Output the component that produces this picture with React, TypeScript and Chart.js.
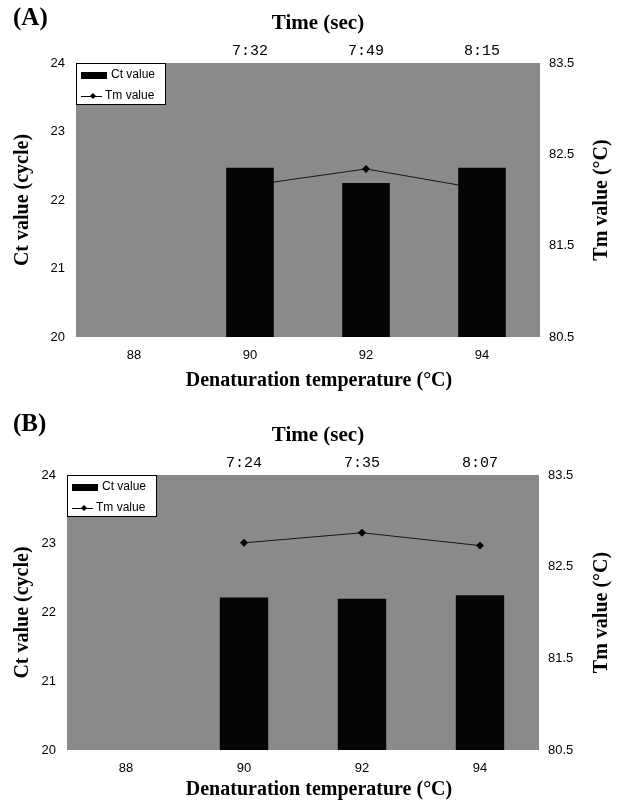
import React, { useEffect, useRef } from 'react';
import { Chart, registerables } from 'chart.js';

Chart.register(...registerables);

// ---------- data ----------
const temperatureLabels = ['88', '90', '92', '94'];

const timeLabelsA = ['', '7:32', '7:49', '8:15'];
const ctValuesA: (number | null)[] = [null, 22.47, 22.25, 22.47];
const tmValuesA: (number | null)[] = [null, 82.16, 82.34, 82.12];

const timeLabelsB = ['', '7:24', '7:35', '8:07'];
const ctValuesB: (number | null)[] = [null, 22.22, 22.2, 22.25];
const tmValuesB: (number | null)[] = [null, 82.76, 82.87, 82.73];

const ctAxisRange = [20, 24];
const tmAxisRange = [80.5, 83.5];
const axisStep = 1;

const seriesNames = ['Ct value', 'Tm value'];
const titleTop = 'Time (sec)';
const titleBottom = 'Denaturation temperature (°C)';
const titleLeft = 'Ct value (cycle)';
const titleRight = 'Tm value (°C)';

// ---------- styles ----------
const W = 622;
const SERIF = '"Liberation Serif", "Times New Roman", serif';
const SANS = '"Liberation Sans", Arial, sans-serif';
const MONO = '"Liberation Mono", "Courier New", monospace';
const PLOT_BG = '#8a8a8a';

type PanelProps = {
  tag: string;
  times: string[];
  ct: (number | null)[];
  tm: (number | null)[];
  height: number;
  plotTop: number;
  plotBottom: number;
  plotLeft: number;
  plotRight: number;
  tagY: number;
  bottomTitleGap: number;
  offsetTop: number;
};

function Panel(p: PanelProps) {
  const ref = useRef<HTMLCanvasElement>(null);

  useEffect(() => {
    if (!ref.current) return;

    const bgPlugin = {
      id: 'plotBg',
      beforeDatasetsDraw(chart: any) {
        const { ctx, chartArea: a } = chart;
        ctx.save();
        ctx.fillStyle = PLOT_BG;
        ctx.fillRect(a.left, a.top, a.right - a.left, a.bottom - a.top);
        ctx.restore();
      },
    };

    const legendPlugin = {
      id: 'insideLegend',
      afterDatasetsDraw(chart: any) {
        const { ctx, chartArea: a } = chart;
        const ds = chart.data.datasets;
        const x = a.left;
        const y = a.top;
        const w = 90;
        const h = 42;
        ctx.save();
        ctx.fillStyle = '#ffffff';
        ctx.fillRect(x, y, w, h);
        ctx.strokeStyle = '#000';
        ctx.lineWidth = 1;
        ctx.strokeRect(x + 0.5, y + 0.5, w - 1, h - 1);
        // Ct swatch
        ctx.fillStyle = '#000';
        ctx.fillRect(x + 5, y + 9, 26, 7);
        ctx.font = `12px ${SANS}`;
        ctx.textBaseline = 'middle';
        ctx.textAlign = 'left';
        ctx.fillText(ds[0].label, x + 35, y + 12);
        // Tm swatch
        const ly = y + 33;
        ctx.strokeStyle = '#000';
        ctx.beginPath();
        ctx.moveTo(x + 5, ly + 0.5);
        ctx.lineTo(x + 26, ly + 0.5);
        ctx.stroke();
        ctx.beginPath();
        const cx = x + 17;
        ctx.moveTo(cx, ly - 3);
        ctx.lineTo(cx + 3, ly);
        ctx.lineTo(cx, ly + 3);
        ctx.lineTo(cx - 3, ly);
        ctx.closePath();
        ctx.fill();
        ctx.fillText(ds[1].label, x + 29, ly);
        ctx.restore();
      },
    };

    const textPlugin = {
      id: 'panelTexts',
      afterDraw(chart: any) {
        const { ctx, chartArea: a } = chart;
        const midY = (a.top + a.bottom) / 2;
        ctx.save();
        ctx.fillStyle = '#000';
        ctx.textBaseline = 'middle';
        // tag
        ctx.textAlign = 'left';
        ctx.font = `bold 25px ${SERIF}`;
        ctx.fillText(p.tag, 13, p.tagY);
        // top & bottom titles
        ctx.textAlign = 'center';
        ctx.font = `bold 21px ${SERIF}`;
        ctx.fillText(titleTop, 318, a.top - 39);
        ctx.font = `bold 20px ${SERIF}`;
        ctx.fillText(titleBottom, 319, a.bottom + p.bottomTitleGap);
        // left title
        ctx.save();
        ctx.translate(23, midY);
        ctx.rotate(-Math.PI / 2);
        ctx.fillText(titleLeft, 0, 0);
        ctx.restore();
        // right title
        ctx.save();
        ctx.translate(602, midY);
        ctx.rotate(-Math.PI / 2);
        ctx.fillText(titleRight, 0, 0);
        ctx.restore();
        ctx.restore();
      },
    };

    const chart = new Chart(ref.current, {
      type: 'bar',
      data: {
        labels: temperatureLabels,
        datasets: [
          {
            type: 'bar',
            label: seriesNames[0],
            data: p.ct,
            xAxisID: 'x',
            yAxisID: 'y',
            backgroundColor: '#050505',
            barPercentage: 0.41,
            categoryPercentage: 1,
          } as any,
          {
            type: 'line',
            label: seriesNames[1],
            data: p.tm,
            xAxisID: 'x',
            yAxisID: 'y2',
            borderColor: '#151515',
            borderWidth: 1,
            pointStyle: 'rectRot',
            pointRadius: 3.5,
            pointBackgroundColor: '#000',
            pointBorderColor: '#000',
            tension: 0,
            fill: false,
          } as any,
        ],
      },
      options: {
        responsive: false,
        animation: false,
        devicePixelRatio: 1,
        layout: { padding: 0 },
        plugins: { legend: { display: false }, tooltip: { enabled: false } },
        scales: {
          x: {
            type: 'category',
            position: 'bottom',
            offset: true,
            grid: { display: false, drawTicks: false },
            border: { display: false },
            ticks: { color: '#000', font: { family: SANS, size: 13 }, padding: 11 },
            afterFit: (s: any) => {
              s.height = p.height - p.plotBottom;
            },
          },
          xTop: {
            type: 'category',
            position: 'top',
            labels: p.times,
            offset: true,
            grid: { display: false, drawTicks: false },
            border: { display: false },
            ticks: { color: '#000', font: { family: MONO, size: 15 }, padding: 3 },
            afterFit: (s: any) => {
              s.height = p.plotTop;
            },
          },
          y: {
            position: 'left',
            min: ctAxisRange[0],
            max: ctAxisRange[1],
            grid: { display: false, drawTicks: false },
            border: { display: false },
            ticks: { stepSize: axisStep, color: '#000', font: { family: SANS, size: 13 }, padding: 11 },
            afterFit: (s: any) => {
              s.width = p.plotLeft;
            },
          },
          y2: {
            position: 'right',
            min: tmAxisRange[0],
            max: tmAxisRange[1],
            grid: { display: false, drawTicks: false },
            border: { display: false },
            ticks: {
              stepSize: axisStep,
              color: '#000',
              font: { family: SANS, size: 13 },
              padding: 9,
              callback: (v: any) => Number(v).toFixed(1),
            },
            afterFit: (s: any) => {
              s.width = W - p.plotRight;
            },
          },
        } as any,
      },
      plugins: [bgPlugin, legendPlugin, textPlugin],
    });

    return () => chart.destroy();
  }, [p]);

  return (
    <canvas
      ref={ref}
      width={W}
      height={p.height}
      style={{ position: 'absolute', left: 0, top: p.offsetTop, width: W, height: p.height, display: 'block' }}
    />
  );
}

const panelA: PanelProps = {
  tag: '(A)',
  times: timeLabelsA,
  ct: ctValuesA,
  tm: tmValuesA,
  height: 400,
  plotTop: 63,
  plotBottom: 337,
  plotLeft: 76,
  plotRight: 540,
  tagY: 19,
  bottomTitleGap: 44,
  offsetTop: 0,
};

const panelB: PanelProps = {
  tag: '(B)',
  times: timeLabelsB,
  ct: ctValuesB,
  tm: tmValuesB,
  height: 402,
  plotTop: 75,
  plotBottom: 350,
  plotLeft: 67,
  plotRight: 539,
  tagY: 25,
  bottomTitleGap: 40,
  offsetTop: 400,
};

export default function App() {
  return (
    <div style={{ position: 'absolute', left: 0, top: 0, width: W, height: 802, background: '#fff' }}>
      <Panel {...panelA} />
      <Panel {...panelB} />
    </div>
  );
}
